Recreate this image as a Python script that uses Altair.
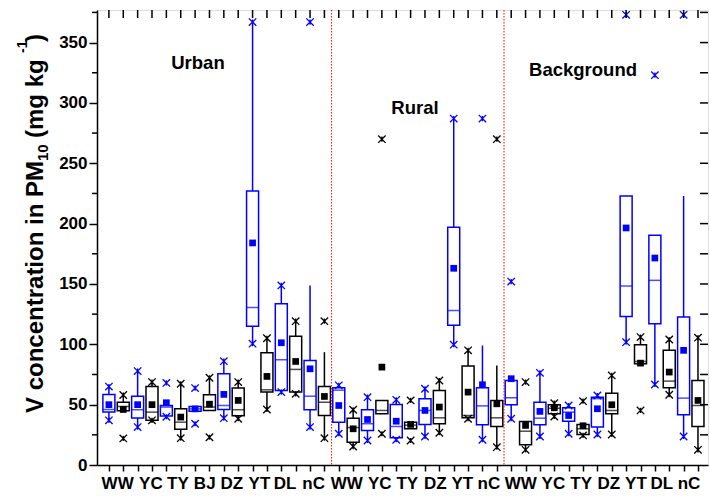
import altair as alt
import pandas as pd

# Site labels per group (each site has a blue and a black box)
urban_sites = ["WW", "YC", "TY", "BJ", "DZ", "YT", "DL", "nC"]
rural_sites = ["WW", "YC", "TY", "DZ", "YT", "nC"]
background_sites = ["WW", "YC", "TY", "DZ", "YT", "DL", "nC"]
# Label centres along the box axis (box index units)
label_pos = [0.61, 2.92, 4.8, 6.67, 8.56, 10.48, 12.26, 14.25,
             16.56, 18.85, 20.77, 22.72, 24.6, 26.45,
             28.66, 30.94, 32.87, 34.8, 36.68, 38.49, 40.38]

# Box statistics, one entry per box, left to right (blue, black alternating)
q1 = [44, 45, 39, 37, 40.5, 29.7, 44.6, 45.2, 46, 40.8, 115, 60.4, 61.8, 60.4, 45.8, 41,
      35.5, 18.9, 28.6, 42.5, 22.5, 30, 33.6, 34.2, 115.7, 39.1, 33.3, 31.9,
      49.9, 16.7, 33.3, 42.5, 36.3, 25.3, 31.4, 42.5, 123, 83.9, 117, 64, 41.6, 31.9]
median = [46, 48.5, 45.8, 43.8, 48, 35.5, 46.5, 48, 49.3, 45.8, 130.5, 62.3, 87.2, 79.2, 57, 52,
          62, 31, 34.2, 45.2, 31.9, 33, 45.2, 39.1, 128, 41, 49, 39.1,
          55.7, 28, 38.8, 47, 43.8, 30, 55, 45.2, 148.3, 85.8, 153, 69.5, 55.4, 49.3]
q3 = [58.5, 52, 57, 65, 49.3, 46.6, 48.5, 58.2, 75.6, 63.7, 227, 93, 133.6, 106.6, 86.6, 65,
      64, 38.8, 45.8, 53.5, 50.2, 35.5, 54.9, 61.8, 197, 82, 64, 53.5,
      70, 36, 52, 49.9, 47.4, 33.6, 56.2, 59.5, 222.9, 99.7, 190.3, 95, 122.6, 70]
mean = [50, 46, 50, 50, 51.6, 39.7, 46.5, 50.4, 58.5, 53.5, 184, 73.4, 101.3, 85.8, 79.7, 56.8,
        49.3, 30, 37.7, 81.1, 36.3, 33.6, 45.2, 48, 163, 60.4, 66.5, 50.7,
        71.5, 32.8, 44.4, 47.4, 41, 32.5, 46.6, 49.9, 196.4, 84.4, 171.5, 77, 95, 53.5]
whisker_lo = [37, 45, 31.4, 37, 40.5, 22.2, 44.6, 45.2, 38.8, 38.3, 100.5, 46, 60.4, 59, 31.4, 22.2,
              25.9, 15.3, 20.3, 42.5, 20.9, 30, 23.6, 26.7, 99.7, 38.3, 20.9, 14.8,
              38.3, 12.6, 23.6, 40.2, 25.9, 24.5, 25.3, 25.3, 101.8, 83.9, 66.7, 58.2, 23.6, 12.6]
whisker_hi = [65, 58, 77.8, 68.7, 49.3, 67.3, 48.5, 72.3, 86, 68.7, 367, 105, 148.8, 119.2, 148.8, 93.5,
              66, 45.8, 56.2, 53.5, 54, 35.5, 63.2, 70, 287, 95, 99, 82.5,
              70, 36, 76.4, 51.2, 49.3, 33.6, 57.6, 74.2, 222.9, 106, 190.3, 104, 222.9, 105.5]
cross_lo = [37, 22, 31.4, 37, 40, 22.2, 34.2, 23, 38.8, 38.3, 100.5, 46, 60.4, 59, 31.4, 22.2,
            25.9, 15.3, 20.3, 25.9, 20.9, 20.3, 23.6, 26.7, 99.7, 38.3, 20.9, 14.8,
            38.3, 12.6, 23.6, 40.2, 25.9, 24.5, 25.3, 25.3, 101.8, 45.2, 66.7, 58.2, 23.6, 12.6]
cross_hi = [65, 58, 77.8, 68.7, 68, 67.3, 63.7, 72.3, 86, 68.7, 367, 105, 148.8, 119.2, 367, 119.2,
            66, 45.8, 56.2, 270, 54, 53.5, 63.2, 70, 287, 95, 287, 270,
            152, 68.7, 76.4, 51.2, 49.3, 52.9, 57.6, 74.2, 373, 106, 323, 104, 373, 105.5]

series = ["blue", "black"]
palette = ["#0000FF", "#000000"]
n_boxes = len(q1)
boxes = pd.DataFrame({
    "pos": list(range(n_boxes)),
    "series": [series[i % 2] for i in range(n_boxes)],
    "q1": q1, "median": median, "q3": q3, "mean": mean,
    "wlo": whisker_lo, "whi": whisker_hi,
})
crosses = pd.DataFrame({
    "pos": list(range(n_boxes)) * 2,
    "series": [series[i % 2] for i in range(n_boxes)] * 2,
    "value": cross_lo + cross_hi,
})

site_labels = urban_sites + rural_sites + background_sites
labels = pd.DataFrame({"pos": label_pos, "site": site_labels})
dividers = pd.DataFrame({"pos": [15.5, 27.5]})
groups = pd.DataFrame({"pos": [6.2, 21.3, 33.0], "value": [333, 296, 327],
                       "group": ["Urban", "Rural", "Background"]})
box_ticks = pd.DataFrame({"pos": list(range(n_boxes))})
minor_ticks = pd.DataFrame({"value": list(range(25, 376, 50))})
right_ticks = pd.DataFrame({"value": list(range(25, 376, 25))})

W, H = 611, 455
FONT = "Liberation Sans"
x_scale = alt.Scale(domain=[-0.48, 41.35], nice=False, zero=False)
y_scale = alt.Scale(domain=[0, 377], nice=False, zero=True)
color = alt.Color("series:N", scale=alt.Scale(domain=series, range=palette), legend=None)

# One shared axis definition per direction, used by every layer
x_axis = alt.Axis(values=list(range(n_boxes)), labels=False, title=None, grid=False,
                  tickSize=6, tickWidth=1.5, tickColor="black",
                  domainColor="black", domainWidth=1.5)
y_axis = alt.Axis(values=list(range(0, 376, 50)), title=None, grid=False,
                  labelFont=FONT, labelFontWeight="bold", labelFontSize=17,
                  labelColor="black", labelPadding=2, tickSize=8,
                  tickWidth=1.5, tickColor="black",
                  domainColor="black", domainWidth=1.5)


def xq(field):
    return alt.X(field, type="quantitative", scale=x_scale, axis=x_axis)


def yq(field):
    return alt.Y(field, type="quantitative", scale=y_scale, axis=y_axis)


box = alt.Chart(boxes).mark_bar(size=12, fill="white", strokeWidth=1.5).encode(
    x=xq("pos"), y=yq("q1"), y2="q3:Q",
    stroke=alt.Stroke("series:N", scale=alt.Scale(domain=series, range=palette),
                      legend=None))

whisk_lo = alt.Chart(boxes).mark_rule(strokeWidth=1.5).encode(
    x=xq("pos"), y=yq("wlo"), y2="q1:Q", color=color)
whisk_hi = alt.Chart(boxes).mark_rule(strokeWidth=1.5).encode(
    x=xq("pos"), y=yq("q3"), y2="whi:Q", color=color)

med = alt.Chart(boxes).mark_tick(orient="horizontal", size=12, thickness=1.5).encode(
    x=xq("pos"), y=yq("median"), color=color)

means = alt.Chart(boxes).mark_square(size=45, opacity=1).encode(
    x=xq("pos"), y=yq("mean"), color=color)

asterisk = "M-1,-1L1,1M-1,1L1,-1M0,-0.7L0,0.7"
marks_x = alt.Chart(crosses).mark_point(shape=asterisk, size=55, filled=False,
                                        strokeWidth=1.3, opacity=1).encode(
    x=xq("pos"), y=yq("value"), color=color)

divider = alt.Chart(dividers).mark_rule(color="red", strokeWidth=1, strokeDash=[1.5, 1.5]).encode(
    x=xq("pos"))

# Frame ticks: inward on top and right, minor ones on the left
tticks = alt.Chart(box_ticks).mark_rule(color="black", strokeWidth=1.5).encode(
    x=xq("pos"), y=alt.value(0), y2=alt.value(8))
rticks = alt.Chart(right_ticks).mark_rule(color="black", strokeWidth=1.5).encode(
    y=yq("value"), x=alt.value(W - 8), x2=alt.value(W))
lticks = alt.Chart(minor_ticks).mark_rule(color="black", strokeWidth=1.5).encode(
    y=yq("value"), x=alt.value(-5), x2=alt.value(0))

site_text = alt.Chart(labels).mark_text(font=FONT, fontWeight="bold", fontSize=17,
                                        baseline="middle", color="black").encode(
    x=xq("pos"), y=alt.value(H + 19), text="site:N")

group_text = alt.Chart(groups).mark_text(font=FONT, fontWeight="bold", fontSize=18.5,
                                         color="black").encode(
    x=xq("pos"), y=yq("value"), text="group:N")

# Y-axis title assembled from pieces to get the subscript and superscript
title_text = ["V concentration in PM", "10", "(mg kg", "-1", ")"]
title_px = [-54, -49, -54, -70, -54]
title_py = [403, 151, 128, 43, 32]
title_fs = [24, 15, 24, 14, 24]
title_layers = [
    alt.Chart(pd.DataFrame({"t": [t]})).mark_text(
        font=FONT, fontWeight="bold", angle=270, align="left", baseline="alphabetic",
        color="black", fontSize=fs).encode(text="t:N", x=alt.value(px), y=alt.value(py))
    for t, px, py, fs in zip(title_text, title_px, title_py, title_fs)
]

chart = alt.layer(box, whisk_lo, whisk_hi, med, means, marks_x, divider,
                  tticks, rticks, lticks,
                  site_text, group_text, *title_layers).properties(
    width=W, height=H,
    autosize=alt.AutoSizeParams(type="none"),
    padding={"left": 97, "top": 10, "right": 2, "bottom": 35},
).configure_view(stroke="black", strokeWidth=1.5).configure(background="white")

chart.save("out.html", embed_options={"renderer": "svg", "actions": False})
